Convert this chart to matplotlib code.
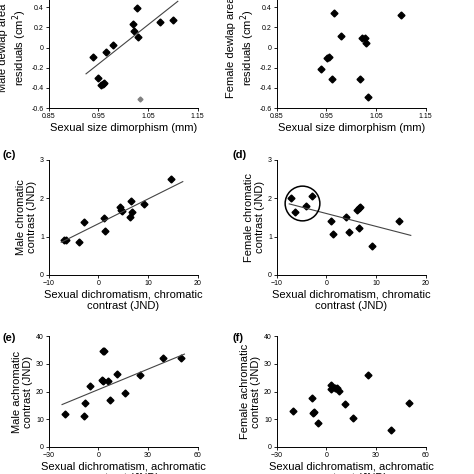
import matplotlib
matplotlib.use("Agg")
import matplotlib.pyplot as plt

# panel data
a_x = [0.94, 0.95, 0.955, 0.96, 0.962, 0.965, 0.98, 1.02, 1.022, 1.027, 1.03, 1.075, 1.1]
a_y = [-0.09, -0.30, -0.37, -0.36, -0.35, -0.04, 0.03, 0.23, 0.17, 0.39, 0.11, 0.25, 0.27]
a_out_x = [1.033]
a_out_y = [-0.51]
a_line_x = [0.925, 1.11]
a_line_y = [-0.26, 0.46]

b_x = [0.94, 0.952, 0.955, 0.962, 0.965, 0.98, 1.018, 1.022, 1.027, 1.03, 1.033, 1.1]
b_y = [-0.21, -0.10, -0.09, -0.31, 0.34, 0.12, -0.31, 0.10, 0.10, 0.05, -0.49, 0.32]

c_x = [-7, -6.5, -4, -3, 1.2, 1.4, 4.3, 4.5, 4.8, 6.3, 6.6, 6.8, 9.2, 14.6]
c_y = [0.92, 0.91, 0.86, 1.39, 1.47, 1.14, 1.77, 1.70, 1.67, 1.50, 1.93, 1.63, 1.85, 2.5]
c_line_x = [-7.5, 17]
c_line_y = [0.85, 2.43]

d_x = [-7.2, -6.3, -4.2, -3, 1, 1.3, 4, 4.5, 6.2, 6.5, 6.7, 6.5, 9.1, 14.6]
d_y = [2.01, 1.63, 1.79, 2.05, 1.4, 1.06, 1.5, 1.12, 1.7, 1.75, 1.78, 1.23, 0.75, 1.4]
d_line_x = [-7.5, 17]
d_line_y = [1.85, 1.03]

e_x = [-20, -9, -8, -5, 2, 2.5, 3, 3.5, 6, 7, 11, 16, 25, 39, 50]
e_y = [11.8, 11.2, 15.8, 22, 24, 23.8, 34.7, 34.5, 23.7, 17, 26.4, 19.4, 26, 32, 32]
e_line_x = [-22, 52]
e_line_y = [15.3, 33.5]

f_x = [-20, -8.5, -8, -7.5, -5, 2.5, 3, 5, 6.5, 7.5, 11, 16, 25, 39, 50]
f_y = [13, 17.5, 12.4, 12.5, 8.8, 22.3, 21, 21.2, 21.3, 20.3, 15.4, 10.3, 25.8, 6.3, 15.8]

plt.rcParams['font.family'] = ['Liberation Sans', 'DejaVu Sans']
fig = plt.figure(figsize=(4.74, 4.74), dpi=100)

lefts = [0.103, 0.584]
rows = [(0.772, 0.255), (0.420, 0.243), (0.057, 0.234)]
W = 0.314


def style(ax, xlim, xticks, xtl, ylim, yticks, ytl, xlabel, ylabel):
    ax.set_xlim(*xlim)
    ax.set_ylim(*ylim)
    ax.set_xticks(xticks)
    ax.set_xticklabels(xtl, fontsize=5)
    ax.set_yticks(yticks)
    ax.set_yticklabels(ytl, fontsize=5)
    ax.spines['top'].set_visible(False)
    ax.spines['right'].set_visible(False)
    ax.tick_params(length=2, width=0.6, pad=1.5)
    for s in ax.spines.values():
        s.set_linewidth(0.7)
    ax.set_xlabel(xlabel, fontsize=8, labelpad=2)
    ax.set_ylabel(ylabel, fontsize=8, labelpad=2)


mk = dict(marker='D', ms=3.5, color='black', ls='none')

# (a)
ax = fig.add_axes([lefts[0], rows[0][0], W, rows[0][1]])
ax.plot(a_x, a_y, **mk)
ax.plot(a_out_x, a_out_y, marker='D', ms=2.5, color='grey', ls='none')
ax.plot(a_line_x, a_line_y, color='#444444', lw=0.8)
style(ax, (0.85, 1.15), [0.85, 0.95, 1.05, 1.15], ['0.85', '0.95', '1.05', '1.15'],
      (-0.6, 0.6), [-0.6, -0.4, -0.2, 0, 0.2, 0.4, 0.6], ['-0.6', '-0.4', '-0.2', '0', '0.2', '0.4', '0.6'],
      'Sexual size dimorphism (mm)', 'Male dewlap area\nresiduals (cm$^2$)')

# (b)
ax = fig.add_axes([lefts[1], rows[0][0], W, rows[0][1]])
ax.plot(b_x, b_y, **mk)
style(ax, (0.85, 1.15), [0.85, 0.95, 1.05, 1.15], ['0.85', '0.95', '1.05', '1.15'],
      (-0.6, 0.6), [-0.6, -0.4, -0.2, 0, 0.2, 0.4, 0.6], ['-0.6', '-0.4', '-0.2', '0', '0.2', '0.4', '0.6'],
      'Sexual size dimorphism (mm)', 'Female dewlap area\nresiduals (cm$^2$)')

chrom_xl = 'Sexual dichromatism, chromatic\ncontrast (JND)'
achrom_xl = 'Sexual dichromatism, achromatic\ncontrast (JND)'

# (c)
ax = fig.add_axes([lefts[0], rows[1][0], W, rows[1][1]])
ax.plot(c_x, c_y, **mk)
ax.plot(c_line_x, c_line_y, color='#444444', lw=0.8)
style(ax, (-10, 20), [-10, 0, 10, 20], ['\u221210', '0', '10', '20'],
      (0, 3), [0, 1, 2, 3], ['0', '1', '2', '3'], chrom_xl, 'Male chromatic\ncontrast (JND)')
fig.text(0.005, rows[1][0] + rows[1][1] + 0.003, '(c)', fontsize=8, fontweight='bold')

# (d)
ax = fig.add_axes([lefts[1], rows[1][0], W, rows[1][1]])
ax.plot(d_x, d_y, **mk)
ax.plot(d_line_x, d_line_y, color='#444444', lw=0.8)
ax.plot([-5], [1.88], marker='o', ms=25, mfc='none', mec='black', mew=1.1, ls='none')
style(ax, (-10, 20), [-10, 0, 10, 20], ['\u221210', '0', '10', '20'],
      (0, 3), [0, 1, 2, 3], ['0', '1', '2', '3'], chrom_xl, 'Female chromatic\ncontrast (JND)')
fig.text(0.49, rows[1][0] + rows[1][1] + 0.003, '(d)', fontsize=8, fontweight='bold')

# (e)
ax = fig.add_axes([lefts[0], rows[2][0], W, rows[2][1]])
ax.plot(e_x, e_y, **mk)
ax.plot(e_line_x, e_line_y, color='#444444', lw=0.8)
style(ax, (-30, 60), [-30, 0, 30, 60], ['\u221230', '0', '30', '60'],
      (0, 40), [0, 10, 20, 30, 40], ['0', '10', '20', '30', '40'], achrom_xl, 'Male achromatic\ncontrast (JND)')
fig.text(0.005, rows[2][0] + rows[2][1] - 0.01, '(e)', fontsize=8, fontweight='bold')

# (f)
ax = fig.add_axes([lefts[1], rows[2][0], W, rows[2][1]])
ax.plot(f_x, f_y, **mk)
style(ax, (-30, 60), [-30, 0, 30, 60], ['\u221230', '0', '30', '60'],
      (0, 40), [0, 10, 20, 30, 40], ['0', '10', '20', '30', '40'], achrom_xl, 'Female achromatic\ncontrast (JND)')
fig.text(0.49, rows[2][0] + rows[2][1] - 0.01, '(f)', fontsize=8, fontweight='bold')

fig.savefig('out.png', dpi=100)
